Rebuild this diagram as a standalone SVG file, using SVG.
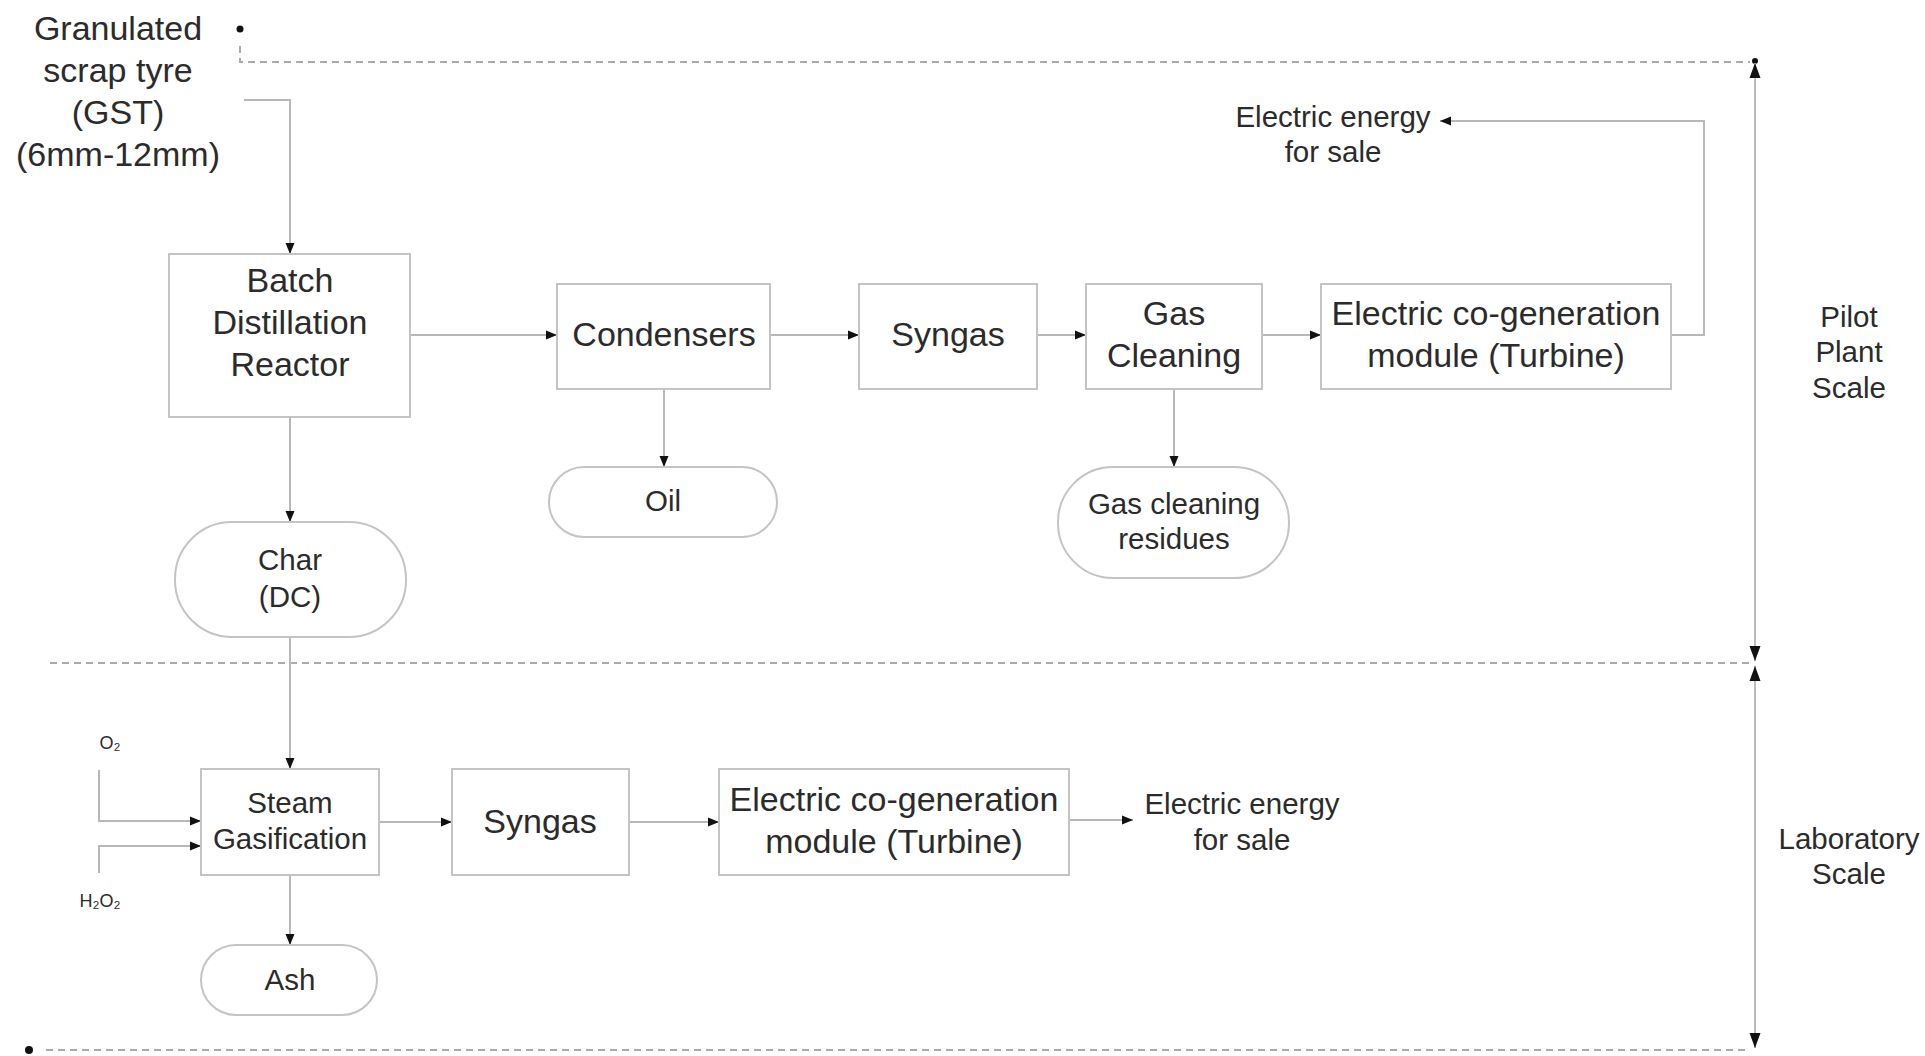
<svg xmlns="http://www.w3.org/2000/svg" width="1925" height="1056" viewBox="0 0 1925 1056">
<defs>
<marker id="arr" markerUnits="userSpaceOnUse" markerWidth="12" markerHeight="12" viewBox="0 0 12 12" refX="11" refY="6" orient="auto-start-reverse">
<path d="M0,1.5 L11,6 L0,10.5 Z" fill="#111"/>
</marker>
<marker id="dimarr" markerUnits="userSpaceOnUse" markerWidth="16" markerHeight="14" viewBox="0 0 16 14" refX="15" refY="7" orient="auto-start-reverse">
<path d="M0,1.5 L15,7 L0,12.5 Z" fill="#111"/>
</marker>
</defs>
<style>
.box{fill:#fff;stroke:#c4c4c4;stroke-width:2}
.con{fill:none;stroke:#b8b8b8;stroke-width:2}
.dash{fill:none;stroke:#aaa;stroke-width:2;stroke-dasharray:7 5}
.dim{fill:none;stroke:#bdbdbd;stroke-width:2}
text{font-family:"Liberation Sans",Arial,sans-serif;fill:#2b2b2b;text-anchor:middle}
.big{font-size:34px}
.med{font-size:29.5px}
.sm{font-size:18px}
</style>
<rect width="1925" height="1056" fill="#fff"/>

<g id="scale-lines">
<circle cx="240" cy="29" r="3.5" fill="#111"/>
<path class="dash" d="M240 46 L240 62 L1750 62"/>
<path class="dash" d="M50 663 L1750 663"/>
<circle cx="29" cy="1050" r="4" fill="#111"/>
<path class="dash" d="M46 1050 L1750 1050"/>
<circle cx="1755" cy="61" r="3" fill="#111"/>
<path class="dim" d="M1755 63 L1755 661" marker-start="url(#dimarr)" marker-end="url(#dimarr)"/>
<path class="dim" d="M1755 666 L1755 1048" marker-start="url(#dimarr)" marker-end="url(#dimarr)"/>
</g>

<g id="connectors">
<path class="con" d="M244 100 L290 100 L290 254" marker-end="url(#arr)"/>
<path class="con" d="M410 335 L557 335" marker-end="url(#arr)"/>
<path class="con" d="M770 335 L859 335" marker-end="url(#arr)"/>
<path class="con" d="M1037 335 L1086 335" marker-end="url(#arr)"/>
<path class="con" d="M1262 335 L1321 335" marker-end="url(#arr)"/>
<path class="con" d="M1671 335 L1704 335 L1704 121 L1440 121" marker-end="url(#arr)"/>
<path class="con" d="M664 389 L664 467" marker-end="url(#arr)"/>
<path class="con" d="M1174 389 L1174 467" marker-end="url(#arr)"/>
<path class="con" d="M290 417 L290 522" marker-end="url(#arr)"/>
<path class="con" d="M290 637 L290 769" marker-end="url(#arr)"/>
<path class="con" d="M99 770 L99 821 L201 821" marker-end="url(#arr)"/>
<path class="con" d="M99 873 L99 846 L201 846" marker-end="url(#arr)"/>
<path class="con" d="M379 822 L452 822" marker-end="url(#arr)"/>
<path class="con" d="M629 822 L719 822" marker-end="url(#arr)"/>
<path class="con" d="M1069 820 L1133 820" marker-end="url(#arr)"/>
<path class="con" d="M290 875 L290 945" marker-end="url(#arr)"/>
</g>

<g id="gst">
<text class="big" x="118" y="40">Granulated</text>
<text class="big" x="118" y="82">scrap tyre</text>
<text class="big" x="118" y="124">(GST)</text>
<text class="big" x="118" y="166">(6mm-12mm)</text>
</g>

<g id="batch-reactor">
<rect class="box" x="169" y="254" width="241" height="163"/>
<text class="big" x="290" y="292">Batch</text>
<text class="big" x="290" y="334">Distillation</text>
<text class="big" x="290" y="376">Reactor</text>
</g>

<g id="condensers">
<rect class="box" x="557" y="284" width="213" height="105"/>
<text class="big" x="664" y="346">Condensers</text>
</g>

<g id="syngas-top">
<rect class="box" x="859" y="284" width="178" height="105"/>
<text class="big" x="948" y="346">Syngas</text>
</g>

<g id="gas-cleaning">
<rect class="box" x="1086" y="284" width="176" height="105"/>
<text class="big" x="1174" y="325">Gas</text>
<text class="big" x="1174" y="367">Cleaning</text>
</g>

<g id="cogen-top">
<rect class="box" x="1321" y="284" width="350" height="105"/>
<text class="big" x="1496" y="325">Electric co-generation</text>
<text class="big" x="1496" y="367">module (Turbine)</text>
</g>

<g id="energy-top">
<text class="med" x="1333" y="127">Electric energy</text>
<text class="med" x="1333" y="162">for sale</text>
</g>

<g id="oil">
<rect class="box" x="549" y="467" width="228" height="70" rx="35" ry="35"/>
<text class="med" x="663" y="511">Oil</text>
</g>

<g id="gas-residues">
<rect class="box" x="1058" y="467" width="231" height="111" rx="55" ry="55"/>
<text class="med" x="1174" y="514">Gas cleaning</text>
<text class="med" x="1174" y="549">residues</text>
</g>

<g id="char">
<rect class="box" x="175" y="522" width="231" height="115" rx="57" ry="57"/>
<text class="med" x="290" y="570">Char</text>
<text class="med" x="290" y="607">(DC)</text>
</g>

<g id="pilot-label">
<text class="med" x="1849" y="327">Pilot</text>
<text class="med" x="1849" y="362">Plant</text>
<text class="med" x="1849" y="398">Scale</text>
</g>

<g id="o2">
<text class="sm" x="110" y="749">O₂</text>
</g>
<g id="h2o">
<text class="sm" x="100" y="907">H₂O₂</text>
</g>

<g id="steam-gasification">
<rect class="box" x="201" y="769" width="178" height="106"/>
<text class="med" x="290" y="813">Steam</text>
<text class="med" x="290" y="849">Gasification</text>
</g>

<g id="syngas-bottom">
<rect class="box" x="452" y="769" width="177" height="106"/>
<text class="big" x="540" y="833">Syngas</text>
</g>

<g id="cogen-bottom">
<rect class="box" x="719" y="769" width="350" height="106"/>
<text class="big" x="894" y="811">Electric co-generation</text>
<text class="big" x="894" y="853">module (Turbine)</text>
</g>

<g id="energy-bottom">
<text class="med" x="1242" y="814">Electric energy</text>
<text class="med" x="1242" y="850">for sale</text>
</g>

<g id="ash">
<rect class="box" x="201" y="945" width="176" height="70" rx="35" ry="35"/>
<text class="med" x="290" y="990">Ash</text>
</g>

<g id="lab-label">
<text class="med" x="1849" y="849">Laboratory</text>
<text class="med" x="1849" y="884">Scale</text>
</g>
</svg>
